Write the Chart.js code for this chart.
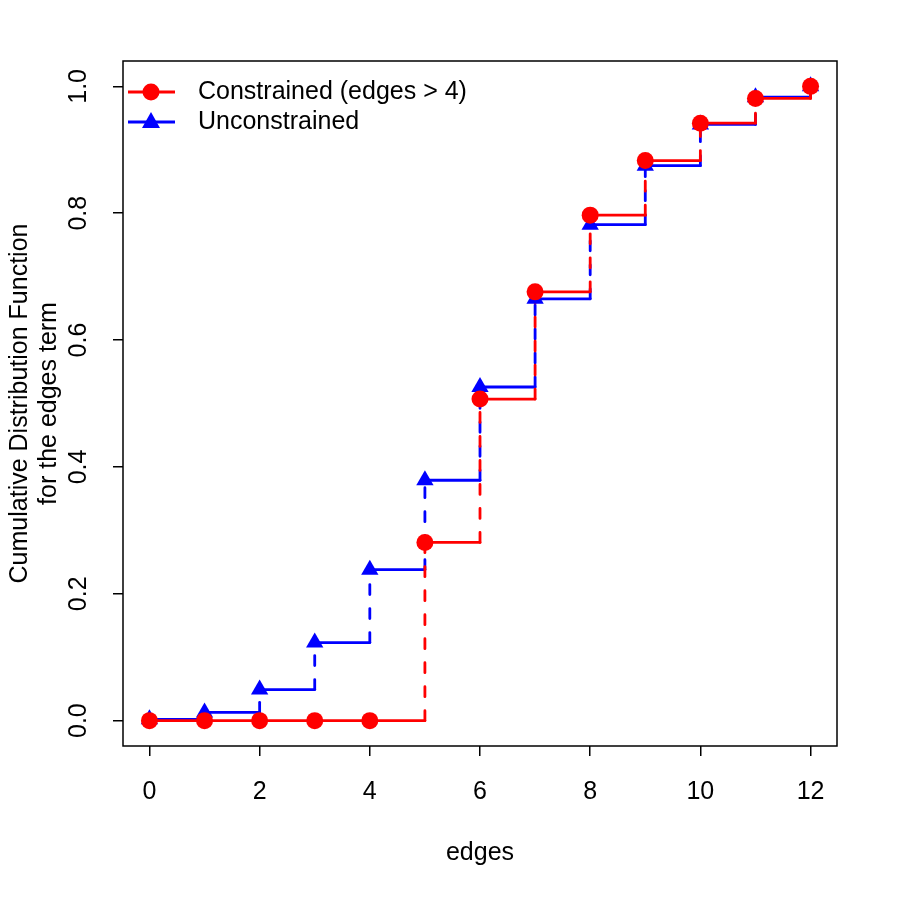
<!DOCTYPE html>
<html>
<head>
<meta charset="utf-8">
<script src="https://cdn.jsdelivr.net/npm/chart.js@4.4.1/dist/chart.umd.min.js"></script>
<style>
  html, body { margin: 0; padding: 0; background: #fff; }
  #wrap { width: 900px; height: 900px; }
</style>
</head>
<body>
<div id="wrap"><canvas id="cdf" width="900" height="900"></canvas></div>
<script>
// Datos
const edges = [0, 1, 2, 3, 4, 5, 6, 7, 8, 9, 10, 11, 12];
const constrainedCdf = [0, 0, 0, 0, 0, 0.281, 0.507, 0.676, 0.797, 0.883, 0.942, 0.981, 1.0];
const unconstrainedCdf = [0.002, 0.013, 0.049, 0.123, 0.238, 0.379, 0.526, 0.665, 0.782, 0.875, 0.940, 0.983, 1.0];
const xTicks = [0, 2, 4, 6, 8, 10, 12];
const yTicks = [0, 0.2, 0.4, 0.6, 0.8, 1.0];
const yTickLabels = ["0.0", "0.2", "0.4", "0.6", "0.8", "1.0"];
const seriesNames = ["Constrained (edges > 4)", "Unconstrained"];
const xTitle = "edges";
const yTitle = ["Cumulative Distribution Function", "for the edges term"];

const FONT = "'Liberation Sans', Arial, Helvetica, sans-serif";
const FONT_SIZE = 25;
const RED = "#ff0000";
const BLUE = "#0000ff";

// Construir puntos de la funcion escalonada (horizontal y luego vertical)
function puntosEscalon(xs, ys) {
    const pts = [];
    for (let i = 0; i < xs.length; i++) {
        pts.push({ x: xs[i], y: ys[i] });
        if (i < xs.length - 1) pts.push({ x: xs[i + 1], y: ys[i] });
    }
    return pts;
}

function puntos(xs, ys) {
    return xs.map((x, i) => ({ x: x, y: ys[i] }));
}

const tramoVertical = (ctx) =>
    ctx.p0.parsed.x === ctx.p1.parsed.x ? [10, 14] : undefined;

function lineaEscalon(data, color) {
    return {
        data: data,
        showLine: true,
        borderColor: color,
        borderWidth: 2.8,
        borderCapStyle: "round",
        borderJoinStyle: "round",
        pointRadius: 0,
        pointHoverRadius: 0,
        segment: { borderDash: tramoVertical },
    };
}

// Plugin: caja, etiquetas del eje y, titulos y leyenda al estilo R
const estiloR = {
    id: "estiloR",
    afterDraw(chart) {
        const ctx = chart.ctx;
        const a = chart.chartArea;
        const ys = chart.scales.y;
        ctx.save();
        ctx.strokeStyle = "#000";
        ctx.lineWidth = 1.5;
        ctx.strokeRect(a.left, a.top, a.right - a.left, a.bottom - a.top);

        ctx.fillStyle = "#000";
        ctx.font = FONT_SIZE + "px " + FONT;
        ctx.textAlign = "center";
        ctx.textBaseline = "middle";
        yTicks.forEach((v, i) => {
            ctx.save();
            ctx.translate(79, ys.getPixelForValue(v));
            ctx.rotate(-Math.PI / 2);
            ctx.fillText(yTickLabels[i], 0, 0);
            ctx.restore();
        });

        const midY = (a.top + a.bottom) / 2;
        ctx.save();
        ctx.translate(20, midY);
        ctx.rotate(-Math.PI / 2);
        ctx.fillText(yTitle[0], 0, 0);
        ctx.restore();
        ctx.save();
        ctx.translate(49, midY);
        ctx.rotate(-Math.PI / 2);
        ctx.fillText(yTitle[1], 0, 0);
        ctx.restore();

        ctx.fillText(xTitle, (a.left + a.right) / 2, 853);

        // Leyenda
        const items = [
            { name: seriesNames[0], color: RED, style: "circle" },
            { name: seriesNames[1], color: BLUE, style: "triangle" },
        ];
        items.forEach((it, i) => {
            const y = 92 + i * 30;
            ctx.strokeStyle = it.color;
            ctx.lineWidth = 2.8;
            ctx.beginPath();
            ctx.moveTo(128, y);
            ctx.lineTo(175, y);
            ctx.stroke();
            ctx.fillStyle = it.color;
            ctx.beginPath();
            if (it.style === "circle") {
                ctx.arc(151, y, 8.5, 0, Math.PI * 2);
            } else {
                ctx.moveTo(151, y - 10);
                ctx.lineTo(160, y + 6);
                ctx.lineTo(142, y + 6);
                ctx.closePath();
            }
            ctx.fill();
            ctx.fillStyle = "#000";
            ctx.textAlign = "left";
            ctx.fillText(it.name, 198, y);
        });
        ctx.restore();
    },
};

const ctx = document.getElementById("cdf").getContext("2d");
new Chart(ctx, {
    type: "scatter",
    data: {
        datasets: [
            {
                data: puntos(edges, constrainedCdf),
                pointStyle: "circle",
                pointRadius: 8.5,
                pointHoverRadius: 8.5,
                backgroundColor: RED,
                borderColor: RED,
                borderWidth: 0,
            },
            {
                data: puntos(edges, unconstrainedCdf),
                pointStyle: "triangle",
                pointRadius: 10,
                pointHoverRadius: 10,
                backgroundColor: BLUE,
                borderColor: BLUE,
                borderWidth: 0,
            },
            lineaEscalon(puntosEscalon(edges, constrainedCdf), RED),
            lineaEscalon(puntosEscalon(edges, unconstrainedCdf), BLUE),
        ],
    },
    options: {
        responsive: false,
        animation: false,
        events: [],
        layout: { padding: { top: 61, right: 63, left: 0, bottom: 0 } },
        plugins: { legend: { display: false }, tooltip: { enabled: false } },
        scales: {
            x: {
                type: "linear",
                min: -0.48,
                max: 12.48,
                afterBuildTicks: (axis) => { axis.ticks = xTicks.map((v) => ({ value: v })); },
                afterFit: (axis) => { axis.height = 154; },
                border: { display: false },
                grid: { drawOnChartArea: false, drawTicks: true, tickLength: 10, color: "#000", lineWidth: 1.5 },
                ticks: { color: "#000", font: { size: FONT_SIZE, family: FONT }, padding: 21, maxRotation: 0 },
            },
            y: {
                type: "linear",
                min: -0.04,
                max: 1.04,
                afterBuildTicks: (axis) => { axis.ticks = yTicks.map((v) => ({ value: v })); },
                afterFit: (axis) => { axis.width = 123; },
                border: { display: false },
                grid: { drawOnChartArea: false, drawTicks: true, tickLength: 10, color: "#000", lineWidth: 1.5 },
                ticks: { display: false },
            },
        },
    },
    plugins: [estiloR],
});
</script>
</body>
</html>
